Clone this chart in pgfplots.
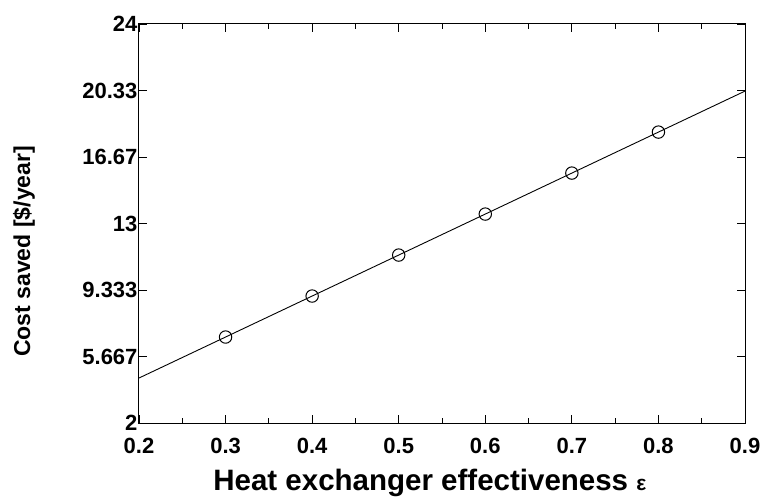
\documentclass[border=0pt]{standalone}
\usepackage{fontspec}
\setmainfont{Liberation Sans}
\usepackage{pgfplots}
\pgfplotsset{compat=1.18}
\newcommand{\tl}[1]{\mbox{\fontsize{22}{26}\selectfont\bfseries #1}}
\begin{document}
\begin{tikzpicture}
\begin{axis}[
  at={(0,0)}, anchor=south west,
  scale only axis,
  width=606pt, height=399pt,
  xmin=0.2, xmax=0.9, ymin=2, ymax=24,
  xtick={0.2,0.3,...,0.9},
  minor x tick num=1,
  ytick={2,5.667,9.333,13,16.667,20.333,24},
  yticklabels={\tl{2},\tl{5.667},\tl{9.333},\tl{13},\tl{16.67},\tl{20.33},\tl{24}},
  xticklabels={\tl{0.2},\tl{0.3},\tl{0.4},\tl{0.5},\tl{0.6},\tl{0.7},\tl{0.8},\tl{0.9}},
  minor y tick num=1,
  tick align=inside,
  major tick length=8pt, minor tick length=5pt,
  tick style={black, line width=0.9pt},
  axis line style={line width=1pt},
  xticklabel style={yshift=-12pt},
  yticklabel style={xshift=2pt},
  xlabel={\textbf{Heat exchanger effectiveness} {\fontsize{21}{24}\selectfont\textbf{ε}}},
  xlabel style={font=\fontsize{29.5}{34}\selectfont, anchor=base, at={(0.48,0)}, yshift=-67pt},
  ylabel={\textbf{Cost saved [\$/year]}},
  ylabel style={font=\fontsize{23}{26}\selectfont, at={(axis description cs:-0.19,0.43)}, anchor=center},
]
\addplot[black, line width=0.9pt] coordinates {(0.2,4.48) (0.9,20.3)};
\addplot[only marks, mark=o, mark size=6.2pt, mark options={fill=white, line width=1pt}, black] coordinates {
(0.3,6.74) (0.4,9.0) (0.5,11.26) (0.6,13.52) (0.7,15.78) (0.8,18.04)};
\end{axis}
\pgfresetboundingbox
\path[use as bounding box] (-139pt,-73pt) rectangle (626pt,423pt);
\end{tikzpicture}
\end{document}
